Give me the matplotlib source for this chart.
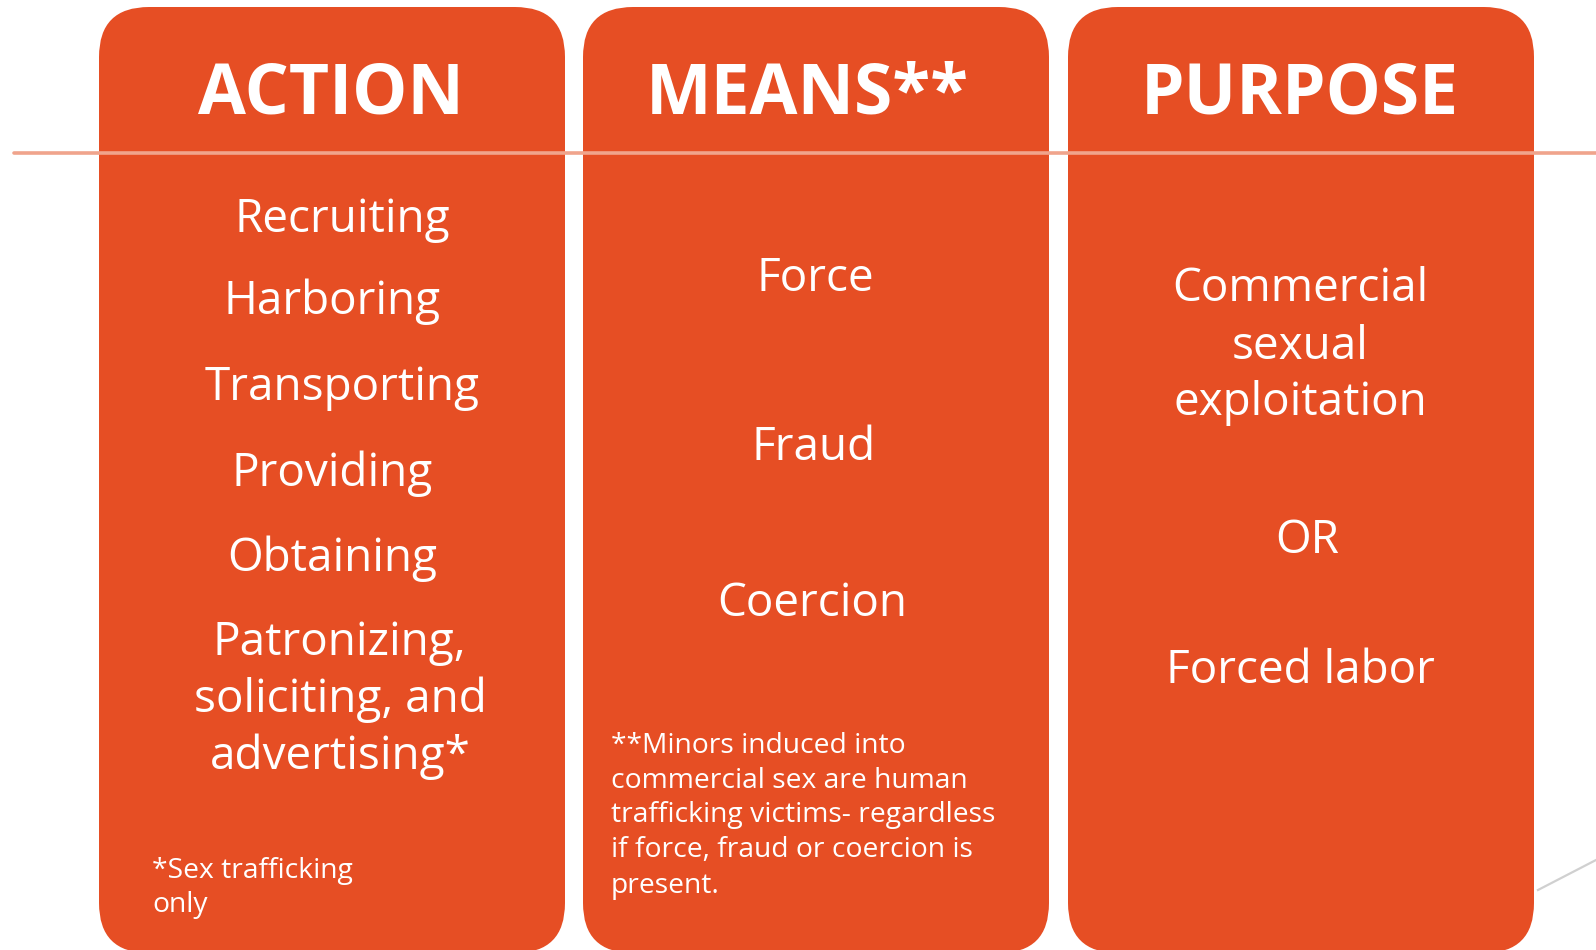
import matplotlib
matplotlib.use("Agg")
import matplotlib.pyplot as plt
from matplotlib.patches import FancyBboxPatch
from matplotlib.lines import Line2D

# ---- content ----
titles = ["ACTION", "MEANS**", "PURPOSE"]
action_items = ["Recruiting", "Harboring", "Transporting", "Providing", "Obtaining",
                "Patronizing,", "soliciting, and", "advertising*"]
means_items = ["Force", "Fraud", "Coercion"]
purpose_items = ["Commercial", "sexual", "exploitation", "OR", "Forced labor"]
action_note = ["*Sex trafficking", "only"]
means_note = ["**Minors induced into", "commercial sex are human",
              "trafficking victims- regardless", "if force, fraud or coercion is",
              "present."]

# ---- layout (pixel coordinates) ----
W, H = 1596, 950
box_left = [99, 583, 1068]
box_width = 466
box_top, box_bottom = 7, 953
radius = 50
title_baseline = 113
title_x = [331, 807, 1300]
action_pos = [(342, 232), (332, 314), (342, 400), (332, 486), (332, 571),
              (339, 655), (340, 712), (340, 769)]
means_pos = [(815, 291), (814, 460), (812, 616)]
purpose_pos = [(1300, 301), (1300, 359), (1300, 415), (1307, 553), (1300, 683)]
action_note_pos = (152, [878, 912])
means_note_pos = (611, [753, 788, 822, 857, 893])

ORANGE = "#E64E24"
SALMON = "#F0A48C"
FONT = ["Open Sans", "DejaVu Sans"]

fig = plt.figure(figsize=(W / 100, H / 100), dpi=100)
ax = fig.add_axes([0, 0, 1, 1])
ax.set_xlim(0, W)
ax.set_ylim(H, 0)
ax.axis("off")

for x0 in box_left:
    ax.add_patch(FancyBboxPatch((x0, box_top), box_width, box_bottom - box_top,
                                boxstyle=f"round,pad=0,rounding_size={radius}",
                                facecolor=ORANGE, edgecolor="none", zorder=1))

# horizontal divider line
ax.add_line(Line2D([14, W], [153, 153], color=SALMON, lw=2.6,
                   solid_capstyle="round", zorder=2))
# faint gray diagonal line bottom right
ax.add_line(Line2D([1538, W], [890, 860], color="#D0D0D0", lw=1.6, zorder=0))

for x, t in zip(title_x, titles):
    ax.text(x, title_baseline, t, color="white", fontsize=50,
            fontweight="bold", ha="center", va="baseline", family=FONT, zorder=3)

def body(items, pos, size=33):
    for s, (x, y) in zip(items, pos):
        ax.text(x, y, s, color="white", fontsize=size, ha="center",
                va="baseline", family=FONT, zorder=3)

body(action_items, action_pos)
body(means_items, means_pos)
body(purpose_items, purpose_pos)

for (x, ys), lines in ((action_note_pos, action_note), (means_note_pos, means_note)):
    for s, y in zip(lines, ys):
        ax.text(x, y, s, color="white", fontsize=20.3, ha="left",
                va="baseline", family=FONT, zorder=3)

fig.savefig("out.png", dpi=100, facecolor="white")
